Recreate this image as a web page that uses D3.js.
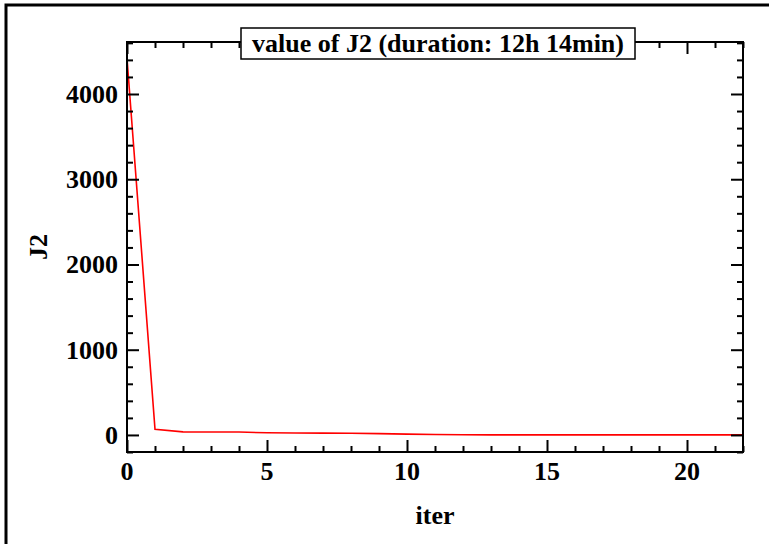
<!DOCTYPE html>
<html>
  <head>
    <meta charset="utf-8" />
    <script src="https://d3js.org/d3.v7.min.js"></script>
    <style>
      body { margin: 0; background: #fff; }
      text { font-family: "Liberation Serif", "DejaVu Serif", serif; font-weight: bold; fill: #000; }
    </style>
  </head>
  <body>
    <div id="chart"></div>
    <script>
      // J2 value per iteration
      var iters = [0, 1, 2, 3, 4, 5, 6, 7, 8, 9, 10, 11, 12, 13, 14, 15, 16, 17, 18, 19, 20, 21, 22];
      var j2 = [4420, 66, 36, 35, 34, 25, 23, 22, 20, 15, 10, 5, 2, 1, 1, 1, 1, 1, 1, 1, 1, 1, 1];
      var xTicks = [0, 5, 10, 15, 20];
      var yTicks = [0, 1000, 2000, 3000, 4000];
      var title = "value of J2 (duration: 12h 14min)";

      var width = 769, height = 544;
      var mLeft = 127, mRight = 743, mTop = 42, mBottom = 452;

      var svg = d3.select("#chart").append("svg")
        .attr("width", width).attr("height", height);

      // outer frame
      svg.append("rect")
        .attr("x", 6).attr("y", 5)
        .attr("width", width + 10).attr("height", height + 10)
        .attr("fill", "none").attr("stroke", "#000").attr("stroke-width", 3);

      var x = d3.scaleLinear().domain([0, 22]).range([mLeft, mRight]);
      var y = d3.scaleLinear().domain([-200, 4610]).range([mBottom, mTop]);

      // data line
      var line = d3.line()
        .x(function (d, i) { return x(iters[i]); })
        .y(function (d) { return y(d); });

      svg.append("path")
        .datum(j2)
        .attr("d", line)
        .attr("fill", "none")
        .attr("stroke", "#f00")
        .attr("stroke-width", 1.6);

      // inward ticks on all four sides
      function ticks(axisFn, scale, minor, major, t) {
        svg.append("g")
          .attr("transform", t)
          .call(axisFn(scale).tickValues(minor).tickSize(6).tickFormat(""))
          .call(function (g) { g.select(".domain").remove(); });
        svg.append("g")
          .attr("transform", t)
          .call(axisFn(scale).tickValues(major).tickSize(12).tickFormat(""))
          .call(function (g) { g.select(".domain").remove(); });
      }
      var xMinor = d3.range(0, 23, 1).filter(function (v) { return v % 5 !== 0; });
      var yMinor = d3.range(-200, 4610, 200).filter(function (v) { return v % 1000 !== 0; });

      ticks(d3.axisTop, x, xMinor, xTicks, "translate(0," + mBottom + ")");
      ticks(d3.axisBottom, x, xMinor, xTicks, "translate(0," + mTop + ")");
      ticks(d3.axisRight, y, yMinor, yTicks, "translate(" + mLeft + ",0)");
      ticks(d3.axisLeft, y, yMinor, yTicks, "translate(" + mRight + ",0)");
      svg.selectAll(".tick line").attr("stroke", "#000").attr("stroke-width", 2);

      // plot frame
      svg.append("rect")
        .attr("x", mLeft).attr("y", mTop)
        .attr("width", mRight - mLeft).attr("height", mBottom - mTop)
        .attr("fill", "none").attr("stroke", "#000").attr("stroke-width", 2);

      // tick labels
      svg.append("g").selectAll("text").data(xTicks).join("text")
        .attr("x", function (d) { return x(d); })
        .attr("y", 480)
        .attr("text-anchor", "middle")
        .attr("font-size", 26)
        .text(function (d) { return d; });

      svg.append("g").selectAll("text").data(yTicks).join("text")
        .attr("x", 118)
        .attr("y", function (d) { return y(d) + 9; })
        .attr("text-anchor", "end")
        .attr("font-size", 26)
        .text(function (d) { return d; });

      // axis titles
      svg.append("text")
        .attr("x", (mLeft + mRight) / 2).attr("y", 524)
        .attr("text-anchor", "middle").attr("font-size", 26)
        .text("iter");

      svg.append("text")
        .attr("transform", "translate(47," + (mTop + mBottom) / 2 + ") rotate(-90)")
        .attr("text-anchor", "middle").attr("font-size", 26)
        .text("J2");

      // title box
      svg.append("rect")
        .attr("x", 241).attr("y", 28)
        .attr("width", 394).attr("height", 31)
        .attr("fill", "#fff").attr("stroke", "#000").attr("stroke-width", 1.5);
      svg.append("text")
        .attr("x", 438).attr("y", 52)
        .attr("text-anchor", "middle").attr("font-size", 26)
        .text(title);
    </script>
  </body>
</html>
